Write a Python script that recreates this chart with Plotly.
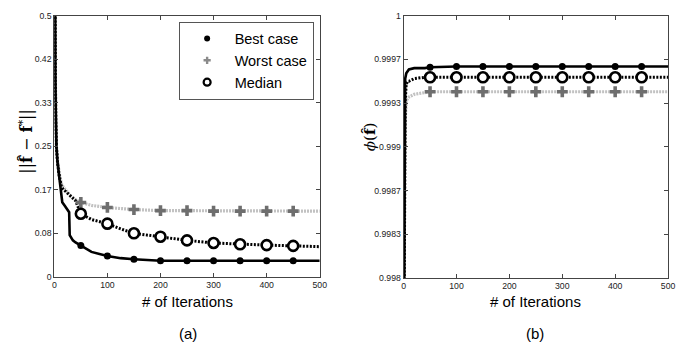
import plotly.graph_objects as go

# ---------------- data ----------------
# Panel (a): ||f_hat - f*|| vs iterations
iters_a = [0, 1, 2, 3, 4, 6, 9, 13, 15, 20, 28, 29, 35, 40, 50, 70, 100, 125, 150, 200, 250, 300, 350, 400, 450, 500]
best_a = [1.0, 0.5, 0.38, 0.30, 0.25, 0.22, 0.19, 0.155, 0.143, 0.136, 0.124, 0.080, 0.070, 0.066, 0.060, 0.048, 0.040, 0.036, 0.034, 0.031, 0.031, 0.031, 0.031, 0.031, 0.031, 0.031]
worst_a = [1.0, 0.5, 0.38, 0.30, 0.25, 0.225, 0.20, 0.18, 0.175, 0.168, 0.158, 0.157, 0.152, 0.148, 0.1425, 0.137, 0.133, 0.131, 0.129, 0.127, 0.127, 0.126, 0.126, 0.126, 0.126, 0.126]
median_a = [1.0, 0.5, 0.38, 0.30, 0.25, 0.22, 0.195, 0.175, 0.17, 0.165, 0.157, 0.156, 0.15, 0.146, 0.121, 0.11, 0.102, 0.092, 0.0836, 0.077, 0.070, 0.065, 0.0626, 0.061, 0.0595, 0.058]

# Panel (b): phi(f_hat) vs iterations
iters_b = [0, 1, 2, 3, 5, 8, 10, 20, 40, 50, 70, 100, 150, 200, 250, 300, 350, 400, 450, 500]
best_b = [0.997, 0.998, 0.9993, 0.99952, 0.99956, 0.99958, 0.99959, 0.9996, 0.9996, 0.999607, 0.99961, 0.999613, 0.999613, 0.999613, 0.999613, 0.999613, 0.999613, 0.999613, 0.999613, 0.999613]
worst_b = [0.997, 0.9985, 0.9991, 0.9992, 0.99935, 0.99937, 0.99938, 0.9994, 0.99941, 0.99942, 0.99942, 0.99942, 0.99942, 0.99942, 0.99942, 0.99942, 0.99942, 0.99942, 0.99942, 0.99942]
median_b = [0.997, 0.9984, 0.9990, 0.99935, 0.99948, 0.9995, 0.9995, 0.99952, 0.99953, 0.99953, 0.99953, 0.99953, 0.99953, 0.99953, 0.99953, 0.99953, 0.99953, 0.99953, 0.99953, 0.99953]

marker_iters = [50, 100, 150, 200, 250, 300, 350, 400, 450]

ytick_vals_a = [0, 0.5/6, 1/6, 0.25, 1/3, 0.5*5/6, 0.5]
ytick_text_a = ["0", "0.08", "0.17", "0.25", "0.33", "0.42", "0.5"]
ytick_vals_b = [0.998, 0.998 + 0.002/6, 0.998 + 0.002*2/6, 0.999, 0.998 + 0.002*4/6, 0.998 + 0.002*5/6, 1.0]
ytick_text_b = ["0.998", "0.9983", "0.9987", "0.999", "0.9993", "0.9997", "1"]
xtick_vals = [0, 100, 200, 300, 400, 500]

series_names = ["Best case", "Worst case", "Median"]

# ---------------- styles ----------------
FONT = "Liberation Sans, Arial, sans-serif"
line_styles = [
    dict(color="black", width=2.6, dash="solid"),
    dict(color="#c2c2c2", width=3.2, dash="2px,1px"),
    dict(color="black", width=3, dash="2px,1.5px"),
]
marker_styles = [
    dict(symbol="circle", size=7, color="black", line=dict(width=0)),
    dict(symbol="cross", size=9, color="#6e6e6e", line=dict(width=0)),
    dict(symbol="circle", size=10, color="white", line=dict(color="black", width=2.6)),
]
legend_marker_styles = [
    dict(symbol="circle", size=6, color="black", line=dict(width=0)),
    dict(symbol="cross", size=6, color="#8a8a8a", line=dict(width=0)),
    dict(symbol="circle", size=7, color="white", line=dict(color="black", width=2.2)),
]

fig = go.Figure()

def pick(xs, ys, wanted):
    m = dict(zip(xs, ys))
    return [m[w] for w in wanted]

panels = [
    ("x", "y", iters_a, [best_a, worst_a, median_a]),
    ("x2", "y2", iters_b, [best_b, worst_b, median_b]),
]
for pi, (xa, ya, xs, ys_list) in enumerate(panels):
    order = [1, 2, 0]  # draw worst, median, best so best is on top
    for k in order:
        ys = ys_list[k]
        fig.add_trace(go.Scatter(x=xs, y=ys, mode="lines", line=line_styles[k],
                                 xaxis=xa, yaxis=ya, showlegend=False, hoverinfo="skip"))
    for k in order:
        ys = ys_list[k]
        fig.add_trace(go.Scatter(x=marker_iters, y=pick(xs, ys, marker_iters), mode="markers",
                                 marker=marker_styles[k], name=series_names[k],
                                 xaxis=xa, yaxis=ya, showlegend=False))

# legend-only traces in proper order
for k in range(3):
    fig.add_trace(go.Scatter(x=[None], y=[None], mode="markers", marker=legend_marker_styles[k],
                             name=series_names[k], xaxis="x", yaxis="y", showlegend=True))

W, H = 679, 349
axis_common = dict(showgrid=False, zeroline=False, showline=True, linecolor="#444", linewidth=1,
                   mirror="ticks", ticks="inside", ticklen=4, tickcolor="#444",
                   tickfont=dict(family=FONT, size=8.7, color="#222"))

fig.update_layout(
    width=W, height=H, margin=dict(l=0, r=0, t=0, b=0),
    paper_bgcolor="white", plot_bgcolor="white",
    font=dict(family=FONT, color="black"),
    xaxis=dict(domain=[53/W, 322/W], range=[0, 500], tickvals=xtick_vals, anchor="y", **axis_common),
    yaxis=dict(domain=[1-280/H, 1-11/H], range=[0, 0.5], tickvals=ytick_vals_a, ticktext=ytick_text_a,
               anchor="x", **axis_common),
    xaxis2=dict(domain=[407/W, 675/W], range=[0, 500], tickvals=xtick_vals, anchor="y2", **axis_common),
    yaxis2=dict(domain=[1-281/H, 1-11/H], range=[0.998, 1.0], tickvals=ytick_vals_b, ticktext=ytick_text_b,
                anchor="x2", **axis_common),
    legend=dict(x=179/W, y=1-17/H, xanchor="left", yanchor="top",
                bgcolor="white", bordercolor="#555", borderwidth=1,
                font=dict(family=FONT, size=14.5, color="black"),
                itemsizing="trace", itemwidth=45, tracegroupgap=0),
    showlegend=True,
)

ann = [
    dict(x=188/W, y=1-305/H, text="# of Iterations", font=dict(size=15)),
    dict(x=541/W, y=1-305/H, text="# of Iterations", font=dict(size=15)),
    dict(x=188/W, y=1-338/H, text="(a)", font=dict(size=15)),
    dict(x=540/W, y=1-338/H, text="(b)", font=dict(size=15)),
    dict(x=25/W, y=1-140/H, text="||<b>f̂</b> − <b>f</b><sup>*</sup>||", textangle=-90,
         font=dict(size=16, family="DejaVu Serif, serif")),
    dict(x=373/W, y=1-136/H, text="<i>ϕ</i>(<b>f̂</b>)", textangle=-90,
         font=dict(size=15, family="DejaVu Serif, serif")),
]
for a in ann:
    a.update(xref="paper", yref="paper", showarrow=False, xanchor="center", yanchor="middle")
fig.update_layout(annotations=ann)

fig.write_html("out.html")
